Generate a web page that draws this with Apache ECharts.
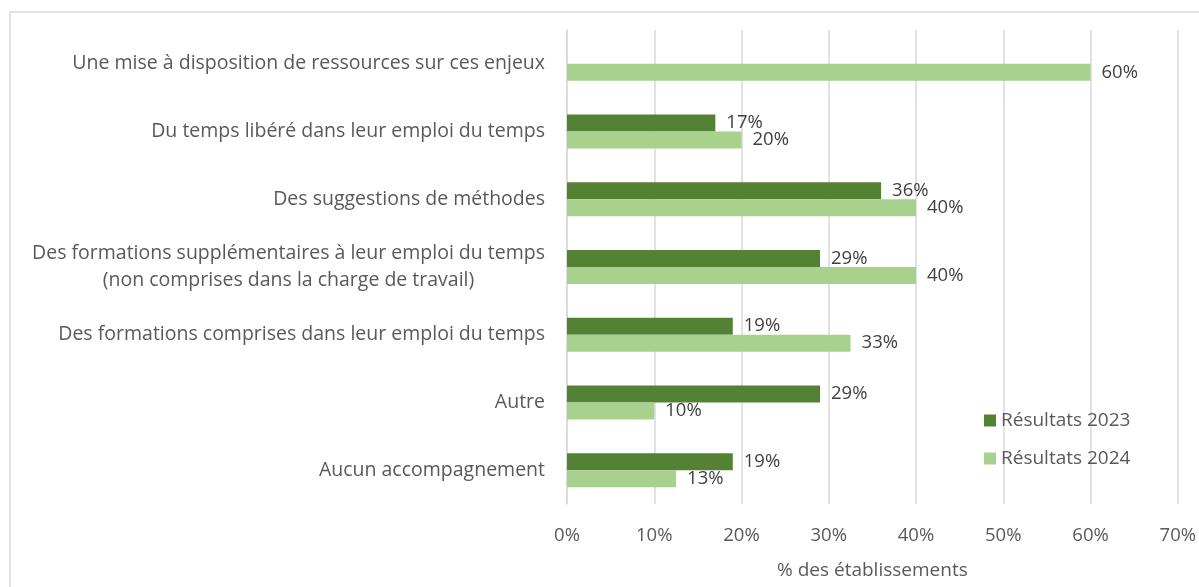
<!DOCTYPE html>
<html>
<head>
<meta charset="utf-8">
<script src="https://cdn.jsdelivr.net/npm/echarts@6/dist/echarts.min.js"></script>
<style>
  html, body { margin: 0; padding: 0; background: #fff; }
  #chart { width: 1199px; height: 587px; }
</style>
</head>
<body>
<div id="chart"></div>
<script>
// catégories, de haut en bas
const categories = [
  'Une mise à disposition de ressources sur ces enjeux',
  'Du temps libéré dans leur emploi du temps',
  'Des suggestions de méthodes',
  'Des formations supplémentaires à leur emploi du temps\n(non comprises dans la charge de travail)',
  'Des formations comprises dans leur emploi du temps',
  'Autre',
  'Aucun accompagnement'
];
const results2023 = [null, 17, 36, 29, 19, 29, 19];
const results2024 = [60, 20, 40, 40, 32.5, 10, 12.5];
const xTicks = [0, 10, 20, 30, 40, 50, 60, 70];

const FONT = 'Open Sans';
const FS = 19;
const chart = echarts.init(document.getElementById('chart'));

const labelStyle = {
  show: true,
  position: 'right',
  distance: 11,
  color: '#404040',
  fontFamily: FONT,
  fontSize: 18.5,
  formatter: p => Math.round(p.value) + '%'
};

const option = {
  animation: false,
  textStyle: { fontFamily: FONT },
  graphic: [{
    type: 'rect',
    shape: { x: 10, y: 12, width: 1400, height: 800 },
    style: { fill: 'none', stroke: '#D9D9D9', lineWidth: 1.5 },
    silent: true
  }],
  grid: { left: 567, right: 19, top: 30, bottom: 83 },
  legend: {
    orient: 'vertical',
    left: 979,
    top: 406,
    itemWidth: 12,
    itemHeight: 12,
    itemGap: 19,
    icon: 'rect',
    textStyle: { color: '#595959', fontSize: FS, fontFamily: FONT },
    data: ['Résultats 2023', 'Résultats 2024']
  },
  xAxis: {
    type: 'value',
    min: xTicks[0],
    max: xTicks[xTicks.length - 1],
    interval: 10,
    name: '% des établissements',
    nameLocation: 'middle',
    nameGap: 57,
    nameTextStyle: { color: '#595959', fontSize: 19, fontFamily: FONT },
    axisLine: { show: false },
    axisTick: { show: false },
    axisLabel: { color: '#595959', fontSize: 18.5, fontFamily: FONT, margin: 22, formatter: v => v + '%' },
    splitLine: { lineStyle: { color: '#D9D9D9', width: 1.5 } }
  },
  yAxis: {
    type: 'category',
    inverse: true,
    data: categories,
    axisLine: { show: true, lineStyle: { color: '#D9D9D9', width: 1.5 } },
    axisTick: { show: false },
    axisLabel: {
      color: '#595959',
      fontSize: 19.5,
      margin: 22,
      lineHeight: 27,
      formatter: v => v.split('\n').map(s => '{c|' + s + '}').join('\n'),
      rich: { c: { align: 'center', color: '#595959', fontSize: 19.5, fontFamily: FONT, lineHeight: 27 } }
    }
  },
  series: [
    {
      name: 'Résultats 2023',
      type: 'bar',
      data: results2023,
      barWidth: 17,
      barGap: '0%',
      itemStyle: { color: '#548235' },
      label: labelStyle
    },
    {
      name: 'Résultats 2024',
      type: 'bar',
      data: results2024,
      barWidth: 17,
      barGap: '0%',
      itemStyle: { color: '#A9D18E' },
      label: labelStyle
    }
  ]
};
chart.setOption(option);
</script>
</body>
</html>
